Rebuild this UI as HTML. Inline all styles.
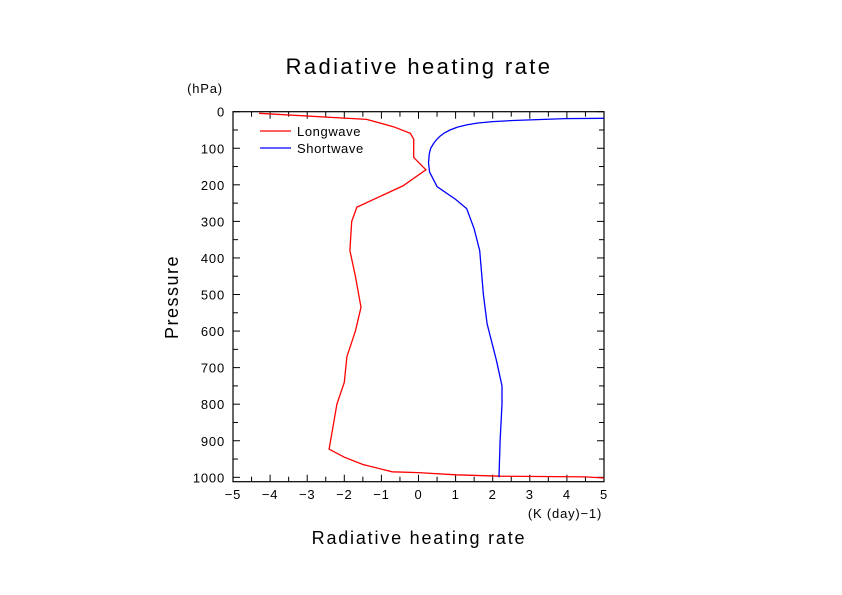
<!DOCTYPE html>
<html><head><meta charset="utf-8"><style>
body{margin:0;background:#fff;}
svg{display:block;font-family:"Liberation Sans",sans-serif;}
</style></head><body>
<svg id="chart" width="842" height="595">
<text x="419" y="74" font-size="22" letter-spacing="2.4" text-anchor="middle">Radiative heating rate</text>
<text x="205" y="93" font-size="13" letter-spacing="0.8" text-anchor="middle">(hPa)</text>
<text x="419" y="544" font-size="18" letter-spacing="1.8" text-anchor="middle">Radiative heating rate</text>
<text x="565" y="518" font-size="13" letter-spacing="0.8" text-anchor="middle">(K (day)−1)</text>
<text x="0" y="0" font-size="18" letter-spacing="1.5" text-anchor="middle" transform="translate(178,297) rotate(-90)">Pressure</text>
<g id="axes"></g>
<g id="series"></g>
<g>
<line x1="260" y1="131" x2="291" y2="131" stroke="#f00" stroke-width="1.3"/>
<text x="297" y="136" font-size="13" letter-spacing="0.6">Longwave</text>
<line x1="260" y1="148" x2="291" y2="148" stroke="#00f" stroke-width="1.3"/>
<text x="297" y="153" font-size="13" letter-spacing="0.6">Shortwave</text>
</g>
</svg>
<script>
const xTicks=[-5,-4,-3,-2,-1,0,1,2,3,4,5];
const yTicks=[0,100,200,300,400,500,600,700,800,900,1000];
const lwRate=[-4.3,-1.4,-0.68,-0.22,-0.13,-0.13,0.2,-0.42,-1.66,-1.8,-1.85,-1.7,-1.55,-1.7,-1.93,-2.0,-2.2,-2.41,-2.0,-1.5,-0.71,0,1,2.2,4.5,5];
const lwP=[4.5,21,41,59,75,125,159,203,261,300,380,450,535,600,670,740,800,923,945,965,985,987,993,997,999,1002];
const swRate=[5,3.95,2.55,2.0,1.6,1.3,1.05,0.85,0.7,0.58,0.48,0.4,0.33,0.29,0.27,0.3,0.5,1.0,1.3,1.5,1.65,1.75,1.85,2.1,2.25,2.25,2.2,2.17];
const swP=[18,19,24,27,31,36,42,50,58,67,77,88,100,115,140,165,205,240,265,320,380,500,580,680,750,800,900,1000];
const L=233,R=604,T=111.7,B=481.7,PMAX=1012;
const x=v=>L+(v+5)/10*(R-L);
const y=p=>T+p/PMAX*(B-T);
const NS="http://www.w3.org/2000/svg";
const ax=document.getElementById('axes');
function mk(tag,attrs,parent){const e=document.createElementNS(NS,tag);for(const k in attrs)e.setAttribute(k,attrs[k]);parent.appendChild(e);return e;}
const frame=mk('rect',{x:L,y:T,width:R-L,height:B-T,fill:'none',stroke:'#000','stroke-width':1.2},ax);


for(let v=-5;v<=5.001;v+=0.5){const len=Math.abs(v-Math.round(v))<0.01?7:5;
mk('line',{x1:x(v),y1:B,x2:x(v),y2:B-len,stroke:'#000'},ax);
mk('line',{x1:x(v),y1:T,x2:x(v),y2:T+len,stroke:'#000'},ax);}
for(let p=0;p<=1000;p+=50){const len=p%100===0?7:5;
mk('line',{x1:L,y1:y(p),x2:L+len,y2:y(p),stroke:'#000'},ax);
mk('line',{x1:R,y1:y(p),x2:R-len,y2:y(p),stroke:'#000'},ax);}
xTicks.forEach(v=>{const t=mk('text',{x:x(v),y:499,'font-size':13,'letter-spacing':0.8,'text-anchor':'middle'},ax);t.textContent=v<0?'−'+(-v):String(v);

});
yTicks.forEach(p=>{const t=mk('text',{x:225,y:y(p)+5,'font-size':13,'letter-spacing':0.8,'text-anchor':'end'},ax);t.textContent=p;

});
const sg=document.getElementById('series');
function line(xs,ps,col,name){const d=xs.map((v,i)=>(i?'L':'M')+x(v).toFixed(1)+','+y(ps[i]).toFixed(1)).join('');
const e=mk('path',{d:d,fill:'none',stroke:col,'stroke-width':1.3},sg);

}
line(lwRate,lwP,'#f00','longwave-line');
line(swRate,swP,'#00f','shortwave-line');
</script>
</body></html>
